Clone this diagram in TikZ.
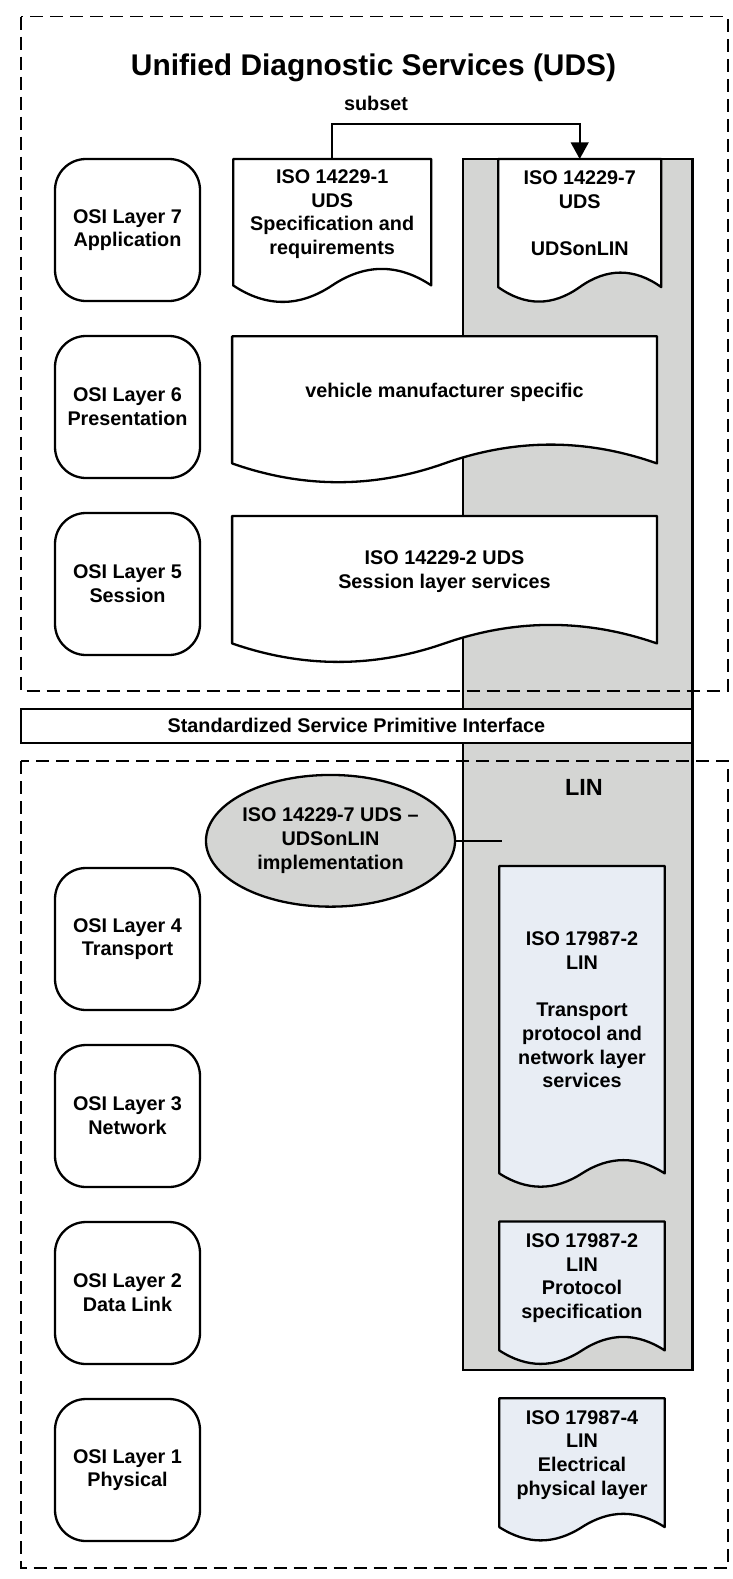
\documentclass[tikz,border=0pt]{standalone}
\usepackage{fontspec}
\setmainfont{Liberation Sans}
\usetikzlibrary{arrows.meta,calc,shapes.geometric}
\pgfdeclarelayer{back}
\pgfdeclarelayer{docs}
\pgfsetlayers{back,docs,main}
\definecolor{lingray}{RGB}{212,213,211}
\definecolor{linpaper}{RGB}{232,237,244}
\newcommand{\udsfont}{\fontsize{19.8}{23.7}\selectfont\bfseries}
\newcommand{\docshape}[3]{\draw[docline,fill=#3] (#1.north west) -- (#1.north east) -- (#1.south east)
	.. controls ($(#1.south east)!0.1667!(#1.south west)+(0,-1.333*#2)$) and ($(#1.south east)!0.3333!(#1.south west)+(0,-1.333*#2)$) .. (#1.south)
	.. controls ($(#1.south)!0.3333!(#1.south west)+(0,1.333*#2)$) and ($(#1.south)!0.6667!(#1.south west)+(0,1.333*#2)$) .. (#1.south west) -- cycle;}

\begin{document}
\begin{tikzpicture}[x=1pt,y=-1pt]
		\tikzstyle{every node}+=[inner sep=0pt]
		\tikzstyle{osi}=[draw, line width=2.3pt, rounded corners=31pt, minimum width=145pt, minimum height=142pt, align=center, font=\udsfont]
		\tikzstyle{doc}=[anchor=north, align=center, font=\udsfont, text depth=20pt]
		\tikzstyle{docline}=[line width=2.3pt, line join=round]
		\tikzstyle{zone}=[line width=1.6pt, dash pattern=on 13pt off 7pt]
		\useasboundingbox (0,0) rectangle (733,1579);
		\begin{pgfonlayer}{back}
		\node [draw, line width=2.8pt, fill=lingray, minimum width=229.5pt, minimum height=1211pt] (lin) at (577.75,764.5) {};
		\end{pgfonlayer}
		\draw [zone] (20.7,16.7) rectangle (727.8,690.7);
		\draw [zone] (20.7,761) rectangle (727.8,1568);
		\node [anchor=base, font=\fontsize{29.9}{36}\selectfont\bfseries] (title) at (373.5,76) {Unified Diagnostic Services (UDS)};
		\node [anchor=base, font=\udsfont] (subset) at (376,110) {subset};
		\node [osi] (osi7) at (127.5,230) {OSI Layer 7\\Application};
		\node [osi] (osi6) at (127.5,407) {OSI Layer 6\\Presentation};
		\node [osi] (osi5) at (127.5,584) {OSI Layer 5\\Session};
		\node [osi] (osi4) at (127.5,939) {OSI Layer 4\\Transport};
		\node [osi] (osi3) at (127.5,1116) {OSI Layer 3\\Network};
		\node [osi] (osi2) at (127.5,1293) {OSI Layer 2\\Data Link};
		\node [osi] (osi1) at (127.5,1470) {OSI Layer 1\\Physical};
		\node [doc, minimum width=197.7pt, minimum height=126pt] (iso1) at (332.2,159) {ISO 14229-1\\UDS\\Specification and\\requirements};
		\node [doc, minimum width=162.7pt, minimum height=127.7pt] (iso7) at (579.7,159) {ISO 14229-7\\UDS\\[23.7pt]UDSonLIN};
		\node [doc, minimum width=424.4pt, minimum height=126.7pt] (oem) at (444.5,336.3) {vehicle manufacturer specific};
		\node [doc, minimum width=424.4pt, minimum height=127pt] (iso2) at (444.5,516) {ISO 14229-2 UDS\\Session layer services};
		\node [doc, minimum width=165pt, minimum height=307pt] (tp) at (582,866) {ISO 17987-2\\LIN\\[23.7pt]Transport\\protocol and\\network layer\\services};
		\node [doc, minimum width=165pt, minimum height=128.5pt] (dl) at (582,1221.5) {ISO 17987-2\\LIN\\Protocol\\specification};
		\node [doc, minimum width=165pt, minimum height=128.4pt] (phy) at (582,1398.3) {ISO 17987-4\\LIN\\Electrical\\physical layer};
		\begin{pgfonlayer}{docs}
		\docshape{iso1}{16.5}{white}
		\docshape{iso7}{14.5}{white}
		\docshape{oem}{18.8}{white}
		\docshape{iso2}{18.5}{white}
		\docshape{tp}{13.3}{linpaper}
		\docshape{dl}{13.5}{linpaper}
		\docshape{phy}{13.3}{linpaper}
		\end{pgfonlayer}
		\draw [line width=2pt, -{Triangle[length=16.6pt,width=17.7pt]}] (iso1.north) -- ++(0,-35) -| (iso7.north);
		\node [draw, line width=2pt, fill=white, minimum width=671.3pt, minimum height=33.7pt, font=\udsfont] (sspi) at (356.4,725.9) {Standardized Service Primitive Interface};
		\node [anchor=base, font=\fontsize{23.4}{28}\selectfont\bfseries] (linlabel) at (584,795.7) {LIN};
		\node [ellipse, draw, line width=2.3pt, fill=lingray, minimum width=235.6pt, minimum height=131.7pt, align=center, font=\udsfont] (impl) at (330.5,840.8) {ISO 14229-7 UDS \textendash\\UDSonLIN\\implementation};
		\coordinate (linport) at (501.7,840.8);
		\draw [line width=2pt] (impl.east) -- (linport);
	\end{tikzpicture}
\end{document}
